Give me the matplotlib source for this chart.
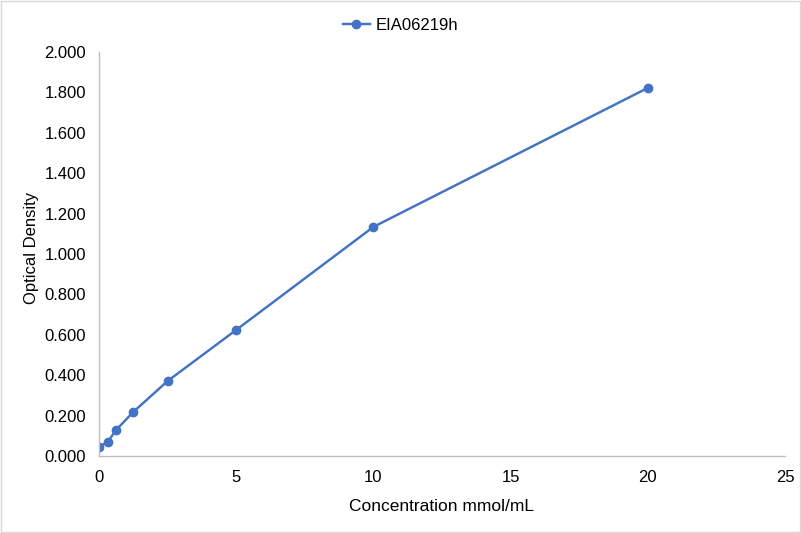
import matplotlib
matplotlib.use('Agg')
from matplotlib import pyplot as plt
from matplotlib.patches import Rectangle

plt.rcParams['font.family'] = ['Liberation Sans', 'DejaVu Sans']

# standard curve data
concentration = [0, 0.3125, 0.625, 1.25, 2.5, 5, 10, 20]
optical_density = [0.045, 0.069, 0.129, 0.218, 0.371, 0.624, 1.134, 1.822]
series_name = 'EIA06219h'

line_color = '#4472C4'
axis_color = '#BFBFBF'

fig = plt.figure(figsize=(8.01, 5.33), dpi=100)
ax = fig.add_axes([0.1236, 0.1445, 0.8564, 0.758])

ax.plot(concentration, optical_density, color=line_color, linewidth=1.75,
        marker='o', markersize=6, label=series_name)

ax.set_xlim(0, 25)
ax.set_ylim(0, 2.0)
ax.set_xticks(range(0, 26, 5))
ax.set_yticks([i * 0.2 for i in range(11)])
ax.set_yticklabels(['%.3f' % (i * 0.2) for i in range(11)])

for side in ['top', 'right']:
    ax.spines[side].set_visible(False)
for side in ['left', 'bottom']:
    ax.spines[side].set_color(axis_color)
    ax.spines[side].set_linewidth(1)
ax.tick_params(length=0, labelsize=12, labelcolor='black')
ax.tick_params(axis='x', pad=10)
ax.tick_params(axis='y', pad=9.4)

ax.set_xlabel('Concentration mmol/mL', fontsize=12.5)
ax.set_ylabel('Optical Density', fontsize=12)
ax.xaxis.set_label_coords(0.5, -0.106)
ax.yaxis.set_label_coords(-0.0882, 0.515)

fig.legend(loc='upper center', bbox_to_anchor=(0.5, 0.995), frameon=False,
           fontsize=12, handlelength=1.6, handletextpad=0.35)

# light border around the chart area
fig.patches.append(Rectangle((0.001, 0.001), 0.998, 0.998, transform=fig.transFigure,
                             fill=False, edgecolor='#D9D9D9', linewidth=1))

fig.savefig('out.png', dpi=100)
